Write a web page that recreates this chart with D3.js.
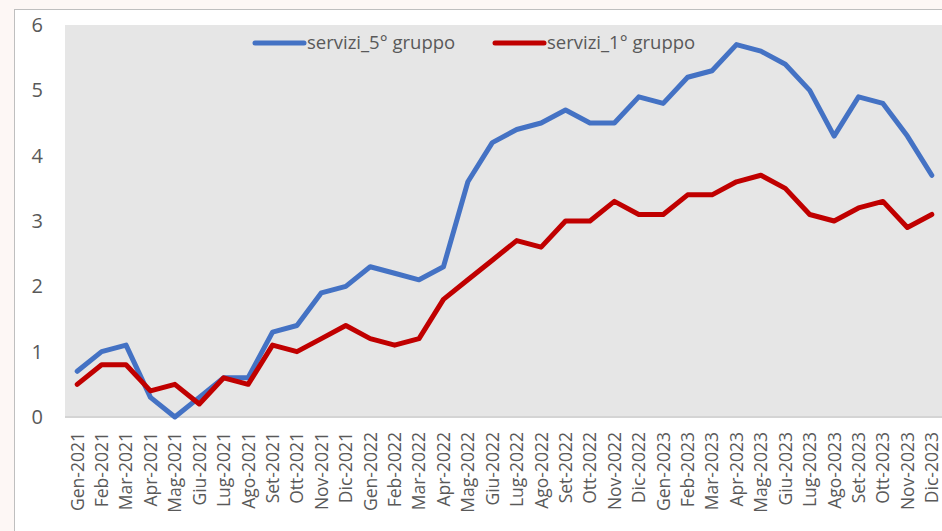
<!DOCTYPE html>
<html>
<head>
<meta charset="utf-8">
<script src="https://cdn.jsdelivr.net/npm/d3@7"></script>
<style>
  html, body { margin: 0; padding: 0; background: #fdf7f5; }
  svg { display: block; }
  .tick text { font-family: "Open Sans", sans-serif; fill: #595959; }
</style>
</head>
<body>
<div id="chart"></div>
<script>
const months = [
  'Gen-2021', 'Feb-2021', 'Mar-2021', 'Apr-2021', 'Mag-2021', 'Giu-2021',
  'Lug-2021', 'Ago-2021', 'Set-2021', 'Ott-2021', 'Nov-2021', 'Dic-2021',
  'Gen-2022', 'Feb-2022', 'Mar-2022', 'Apr-2022', 'Mag-2022', 'Giu-2022',
  'Lug-2022', 'Ago-2022', 'Set-2022', 'Ott-2022', 'Nov-2022', 'Dic-2022',
  'Gen-2023', 'Feb-2023', 'Mar-2023', 'Apr-2023', 'Mag-2023', 'Giu-2023',
  'Lug-2023', 'Ago-2023', 'Set-2023', 'Ott-2023', 'Nov-2023', 'Dic-2023'
];

const servizi5 = [
  0.7, 1.0, 1.1, 0.3, 0.0, 0.3, 0.6, 0.6, 1.3, 1.4, 1.9, 2.0,
  2.3, 2.2, 2.1, 2.3, 3.6, 4.2, 4.4, 4.5, 4.7, 4.5, 4.5, 4.9,
  4.8, 5.2, 5.3, 5.7, 5.6, 5.4, 5.0, 4.3, 4.9, 4.8, 4.3, 3.7
];

const servizi1 = [
  0.5, 0.8, 0.8, 0.4, 0.5, 0.2, 0.6, 0.5, 1.1, 1.0, 1.2, 1.4,
  1.2, 1.1, 1.2, 1.8, 2.1, 2.4, 2.7, 2.6, 3.0, 3.0, 3.3, 3.1,
  3.1, 3.4, 3.4, 3.6, 3.7, 3.5, 3.1, 3.0, 3.2, 3.3, 2.9, 3.1
];

const yTicks = [0, 1, 2, 3, 4, 5, 6];

const series = [
  { name: 'servizi_5° gruppo', values: servizi5, color: '#4472c4' },
  { name: 'servizi_1° gruppo', values: servizi1, color: '#c00000' }
];

const width = 942, height = 531;
const plot = { left: 65, right: 944, top: 25, bottom: 417 };

const svg = d3.select('#chart')
  .append('svg')
  .attr('width', width)
  .attr('height', height);

// white chart box with thin grey border (left and top visible)
svg.append('rect')
  .attr('x', 14.5).attr('y', 9.5)
  .attr('width', width + 20).attr('height', height + 20)
  .attr('fill', '#ffffff')
  .attr('stroke', '#bfbfbf')
  .attr('stroke-width', 1);

// plot area
svg.append('rect')
  .attr('x', plot.left).attr('y', plot.top)
  .attr('width', width - plot.left).attr('height', plot.bottom - plot.top)
  .attr('fill', '#e6e6e6');

const x = d3.scalePoint().domain(months).range([plot.left, plot.right]).padding(0.5);
const y = d3.scaleLinear().domain([0, 6]).range([plot.bottom, plot.top]);

// y axis
const yAxis = svg.append('g')
  .attr('transform', `translate(${plot.left}, 0)`)
  .call(d3.axisLeft(y).tickValues(yTicks).tickFormat(d3.format('d')).tickSize(0).tickPadding(22));
yAxis.select('.domain').remove();
yAxis.selectAll('text').style('font-size', '20px');

// x axis
const xAxis = svg.append('g')
  .attr('transform', `translate(0, ${plot.bottom})`)
  .call(d3.axisBottom(x).tickSize(0));
xAxis.select('.domain')
  .attr('d', `M${plot.left},0H${width}`)
  .attr('stroke', '#d4d4d4').attr('stroke-width', 2);
xAxis.selectAll('text')
  .style('font-size', '17.5px')
  .attr('transform', 'rotate(-90)')
  .attr('x', -15)
  .attr('y', 0)
  .attr('dy', '0.34em')
  .attr('text-anchor', 'end');

// lines
const line = d3.line()
  .x((d, i) => x(months[i]))
  .y(d => y(d));

svg.selectAll('.series')
  .data(series)
  .enter()
  .append('path')
  .attr('class', 'series')
  .attr('d', d => line(d.values))
  .attr('fill', 'none')
  .attr('stroke', d => d.color)
  .attr('stroke-width', 5)
  .attr('stroke-linejoin', 'round')
  .attr('stroke-linecap', 'round');

// legend
const legend = svg.selectAll('.legend')
  .data(series)
  .enter()
  .append('g')
  .attr('class', 'legend')
  .attr('transform', (d, i) => `translate(${255 + i * 240}, 43)`);

legend.append('line')
  .attr('x1', 0).attr('x2', 49)
  .attr('stroke', d => d.color)
  .attr('stroke-width', 5)
  .attr('stroke-linecap', 'round');

legend.append('text')
  .attr('x', 52)
  .attr('dy', '0.35em')
  .style('font-family', '"Open Sans", sans-serif')
  .style('font-size', '18.5px')
  .attr('fill', '#595959')
  .text(d => d.name);
</script>
</body>
</html>
